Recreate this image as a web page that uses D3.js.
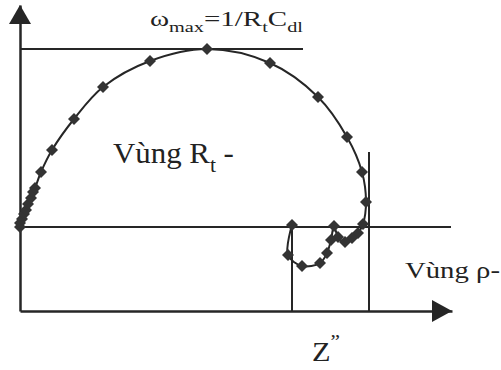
<!DOCTYPE html>
<html>
<head>
<meta charset="utf-8">
<script src="https://cdn.jsdelivr.net/npm/d3@7"></script>
<style>
  body { margin: 0; background: #fff; }
  svg { display: block; }
  text { font-family: "Liberation Serif", "Times New Roman", serif; fill: #222; }
</style>
</head>
<body>
<svg id="chart" width="501" height="370"></svg>
<script>
// Measured impedance spectrum, in order of decreasing frequency (arbitrary units)
const zReal = [0.0, 0.0, 0.2, 0.4, 0.6, 0.8, 1.1, 1.3, 1.5, 2.1, 3.2, 5.4, 8.3, 13.0, 18.7,
               25.0, 29.8, 32.7, 34.2, 34.6, 34.3, 33.8, 33.2, 32.5, 31.8, 31.4, 31.1,
               30.7, 30.0, 28.2, 26.8, 27.2];
const zImag = [8.4, 8.8, 9.2, 9.7, 10.1, 10.7, 11.3, 11.9, 12.3, 13.9, 16.1, 19.2, 22.4, 25.0, 26.2,
               24.8, 21.4, 17.4, 13.9, 10.9, 8.7, 7.8, 7.3, 6.9, 7.4, 8.5, 7.1,
               5.8, 4.8, 4.5, 5.6, 8.6];

// Reference levels
const baseLevel = 8.4;      // real-axis baseline of the arc
const peakLevel = 26.2;     // level of ω_max
const peakLineEnd = 28.3;
const baseLineEnd = 43.1;
const rtBound = 34.9;       // end of the R_t region
const rtBoundTop = 15.9;
const rhoBound = 27.2;      // start of the ρ region

const xMax = 43.2, yMax = 30.6;

const ink = "#262626";
const svg = d3.select("#chart");

const x = d3.scaleLinear().domain([0, xMax]).range([20, 452]);
const y = d3.scaleLinear().domain([0, yMax]).range([311, 5]);

// Axes without ticks, ending in arrowheads
const gx = svg.append("g").attr("transform", `translate(0,${y(0)})`)
  .call(d3.axisBottom(x).tickValues([]).tickSizeOuter(0));
const gy = svg.append("g").attr("transform", `translate(${x(0)},0)`)
  .call(d3.axisLeft(y).tickValues([]).tickSizeOuter(0));
[gx, gy].forEach(g => g.select(".domain").attr("stroke", ink).attr("stroke-width", 2.5));

const xr = x.range(), yr = y.range();
svg.append("path")
  .attr("d", `M${xr[1]},${y(0)} L${xr[1] - 20},${y(0) - 11} L${xr[1] - 20},${y(0) + 11} Z`)
  .attr("fill", ink);
svg.append("path")
  .attr("d", `M${x(0)},${yr[1]} L${x(0) - 11},${yr[1] + 19} L${x(0) + 11},${yr[1] + 19} Z`)
  .attr("fill", ink);

// Guide lines
const guides = [
  [0, peakLevel, peakLineEnd, peakLevel],
  [0, baseLevel, baseLineEnd, baseLevel],
  [rtBound, rtBoundTop, rtBound, 0],
  [rhoBound, zImag[zImag.length - 1], rhoBound, 0]
];
svg.append("g").selectAll("line").data(guides).join("line")
  .attr("x1", d => x(d[0])).attr("y1", d => y(d[1]))
  .attr("x2", d => x(d[2])).attr("y2", d => y(d[3]))
  .attr("stroke", ink).attr("stroke-width", 2);

// Spectrum curve and markers
const pts = zReal.map((v, i) => [v, zImag[i]]);
svg.append("path")
  .datum(pts)
  .attr("fill", "none")
  .attr("stroke", ink)
  .attr("stroke-width", 2)
  .attr("d", d3.line().x(d => x(d[0])).y(d => y(d[1])).curve(d3.curveCatmullRom.alpha(0.5)));

const marker = d3.symbol(d3.symbolSquare, 72);
svg.append("g").selectAll("path").data(pts).join("path")
  .attr("d", marker)
  .attr("transform", d => `translate(${x(d[0])},${y(d[1])}) rotate(45)`)
  .attr("fill", "#333");

// Labels
function label(x0, baseline, width, size, parts) {
  const g = svg.append("g");
  const t = g.append("text").attr("font-size", size);
  let shift = 0;
  parts.forEach(([str, kind]) => {
    const target = kind === "sub" ? size * 0.3 : kind === "sup" ? -size * 0.5 : 0;
    t.append("tspan")
      .attr("font-size", kind ? size * 0.7 : size)
      .attr("dy", target - shift)
      .text(str);
    shift = target;
  });
  const w = t.node().getBBox().width;
  g.attr("transform", `translate(${x0},${baseline}) scale(${width / w},1)`);
}

label(150, 26, 153, 21, [["ω"], ["max", "sub"], ["=1/R"], ["t", "sub"], ["C"], ["dl", "sub"]]);
label(113, 163, 121, 29, [["Vùng R"], ["t", "sub"], [" -"]]);
label(405, 278, 95, 24, [["Vùng ρ-"]]);
label(312, 361, 28, 27, [["Z"], ["”", "sup"]]);
</script>
</body>
</html>
